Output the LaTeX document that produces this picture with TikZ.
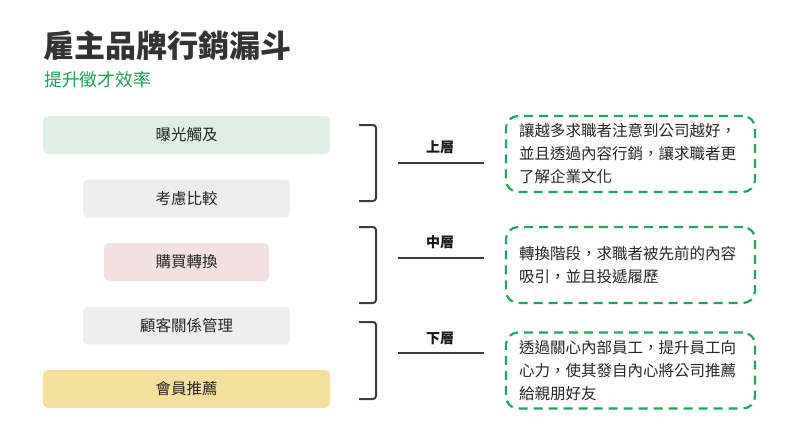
\documentclass[tikz,border=0pt]{standalone}
\usepackage{fontspec}
\setmainfont{Noto Sans CJK TC}
\usepackage{xcolor}
\usepackage{tikz}
\usetikzlibrary{
  positioning
}
\definecolor{titlegray}{HTML}{333333}
\definecolor{subgreen}{HTML}{1F9E57}
\definecolor{dashgreen}{HTML}{22A45A}
\definecolor{linegray}{HTML}{3C3C3C}
\definecolor{fillgreen}{HTML}{E0EFE4}
\definecolor{fillgray}{HTML}{EDEDED}
\definecolor{fillpink}{HTML}{F3E1E1}
\definecolor{fillyellow}{HTML}{F6E09B}

\begin{document}
\begin{tikzpicture}[
      x=1pt, y=-1pt,
      node distance=63.5pt,
      stage/.style={rectangle, rounded corners=5pt, minimum height=38pt, inner sep=0pt, font=\fontsize{15.5}{18}\selectfont, text=black!85},
      layer/.style={font=\bfseries\fontsize{14}{16}\selectfont, text=black!90},
      note/.style={rectangle, draw=dashgreen, line width=2.2pt, dash pattern=on 9pt off 6pt, rounded corners=12pt, minimum width=249pt, minimum height=76pt, text width=223pt, align=left, inner sep=0pt, font=\fontsize{15.5}{23}\selectfont, text=black!85},
      bracket/.style={draw=linegray, line width=2pt, rounded corners=3pt},
      rule/.style={draw=linegray, line width=2pt}
    ]
      \useasboundingbox (0,0) rectangle (800,436);

      % Title
      \node[anchor=west, inner sep=0pt, text=titlegray, font=\bfseries\fontsize{31}{35}\selectfont] (title) at (43,46) {雇主品牌行銷漏斗};
      \node[anchor=west, inner sep=0pt, text=subgreen, font=\fontsize{17.8}{20}\selectfont] (subtitle) at (44,80) {提升徵才效率};

      % Funnel stages
      \node[stage, fill=fillgreen, minimum width=287pt] (s1) at (186.5,135) {曝光觸及};
      \node[stage, fill=fillgray, minimum width=207pt, below of=s1] (s2) {考慮比較};
      \node[stage, fill=fillpink, minimum width=165pt, below of=s2] (s3) {購買轉換};
      \node[stage, fill=fillgray, minimum width=207pt, below of=s3] (s4) {顧客關係管理};
      \node[stage, fill=fillyellow, minimum width=287pt, below of=s4] (s5) {會員推薦};

      % Brackets
      \coordinate (b1t) at (359,125);
      \coordinate (b1b) at (359,201);
      \coordinate (b2t) at (359,227);
      \coordinate (b2b) at (359,303);
      \coordinate (b3t) at (359,322);
      \coordinate (b3b) at (359,399);
      \draw[bracket] (b1t) -- ++(17,0) |- (b1b);
      \draw[bracket] (b2t) -- ++(17,0) |- (b2b);
      \draw[bracket] (b3t) -- ++(17,0) |- (b3b);

      % Layer labels
      \coordinate (r1a) at (398,163);
      \coordinate (r1b) at (484,163);
      \coordinate (r2a) at (398,258);
      \coordinate (r2b) at (484,258);
      \coordinate (r3a) at (398,353);
      \coordinate (r3b) at (484,353);
      \draw[rule] (r1a) -- (r1b);
      \draw[rule] (r2a) -- (r2b);
      \draw[rule] (r3a) -- (r3b);
      \node[layer] (u1) at (440,147) {上層};
      \node[layer] (u2) at (440,242) {中層};
      \node[layer] (u3) at (440,338) {下層};

      % Notes
      \node[note] (n1) at (630.5,154) {讓越多求職者注意到公司越好，\\並且透過內容行銷，讓求職者更\\了解企業文化};
      \node[note] (n2) at (630.5,265) {轉換階段，求職者被先前的內容\\吸引，並且投遞履歷};
      \node[note] (n3) at (630.5,370.5) {透過關心內部員工，提升員工向\\心力，使其發自內心將公司推薦\\給親朋好友};
    \end{tikzpicture}
\end{document}
